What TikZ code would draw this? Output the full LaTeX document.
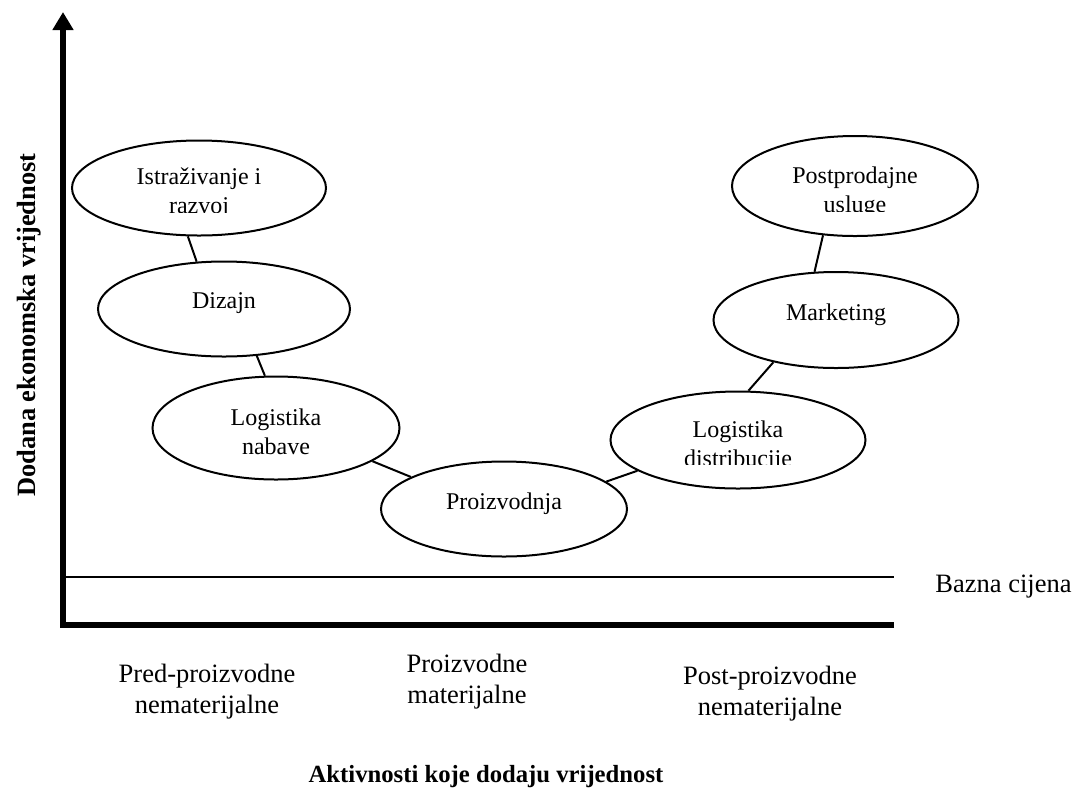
\documentclass[tikz,border=0pt]{standalone}
\usepackage{fontspec}
\setmainfont{Liberation Serif}
\usetikzlibrary{shapes.geometric, arrows.meta, positioning}

\tikzset{
  stage/.style={draw, ellipse, line width=1pt, inner sep=0pt, minimum width=124pt, minimum height=48pt},
  stagetext/.style={anchor=base, align=center, inner sep=0pt, font=\fontsize{12}{14.5}\selectfont},
  link/.style={line width=1pt},
  axis/.style={line width=3pt},
  caption/.style={align=center, inner sep=0pt, font=\fontsize{13.25}{15.5}\selectfont},
}

\begin{document}
\begin{tikzpicture}[x=0.5pt, y=-0.5pt]
\useasboundingbox (0,0) rectangle (1073,789);

% Axes
\coordinate (origin) at (63,624.5);
\coordinate (ytop) at (63,12);
\coordinate (xend) at (894,624.5);
\draw[axis, -{Triangle[width=10pt,length=9pt]}] (xend) -- (origin) -- (ytop);

% Base price line
\coordinate (basewest) at (64,577);
\coordinate (baseeast) at (894,577);
\draw[line width=0.9pt] (basewest) -- (baseeast);
\node[anchor=base west, inner sep=0pt, font=\fontsize{13.25}{15}\selectfont] (bazna) at (935,592) {Bazna cijena};

% Value chain stages
\node[stage, minimum width=127pt, minimum height=47.5pt] (istr) at (199,188) {};
\node[stage, minimum width=126pt, minimum height=47.5pt] (dizajn) at (224,309) {};
\node[stage, minimum width=123.5pt, minimum height=51.5pt] (nabava) at (276,428) {};
\node[stage, minimum width=123pt, minimum height=47.5pt] (proiz) at (504,509) {};
\node[stage, minimum width=127.5pt, minimum height=48.5pt] (distr) at (738,440) {};
\node[stage, minimum width=122.5pt, minimum height=48pt] (mark) at (836,320) {};
\node[stage, minimum width=123pt, minimum height=50pt] (post) at (855,186) {};

% Stage texts (some cut off at the bottom)
\begin{scope}
\clip (60,100) rectangle (340,212);
\node[stagetext] (istrtext) at (199,213) {Istraživanje i\\razvoj};
\end{scope}
\node[stagetext] (dizajntext) at (224,308) {Dizajn};
\node[stagetext] (nabavatext) at (276,454) {Logistika\\nabave};
\node[stagetext] (proiztext) at (504,509) {Proizvodnja};
\begin{scope}
\clip (600,380) rectangle (880,464);
\node[stagetext] (distrtext) at (738,466) {Logistika\\distribucije};
\end{scope}
\node[stagetext] (marktext) at (836,320) {Marketing};
\begin{scope}
\clip (720,100) rectangle (990,211);
\node[stagetext] (posttext) at (855,212) {Postprodajne\\usluge};
\end{scope}

% Links between stages
\foreach \a/\b in {istr.-103/dizajn.120, dizajn.-55/nabava.102, nabava.-19/proiz.161,
                   proiz.15/distr.197, distr.78/mark.214, mark.114/post.237}
{
    \draw[link] (\a) -- (\b);
}

% Labels
\node[caption] (pre) at (207,692) {Pred-proizvodne\\nematerijalne};
\node[caption] (prod) at (467,682) {Proizvodne\\materijalne};
\node[caption] (postp) at (770,694) {Post-proizvodne\\nematerijalne};
\node[inner sep=0pt, font=\bfseries\fontsize{12.35}{14}\selectfont] (xlabel) at (486,777) {Aktivnosti koje dodaju vrijednost};
\node[inner sep=0pt, rotate=90, font=\bfseries\fontsize{13.2}{15}\selectfont] (ylabel) at (29,325) {Dodana ekonomska vrijednost};

\end{tikzpicture}
\end{document}
